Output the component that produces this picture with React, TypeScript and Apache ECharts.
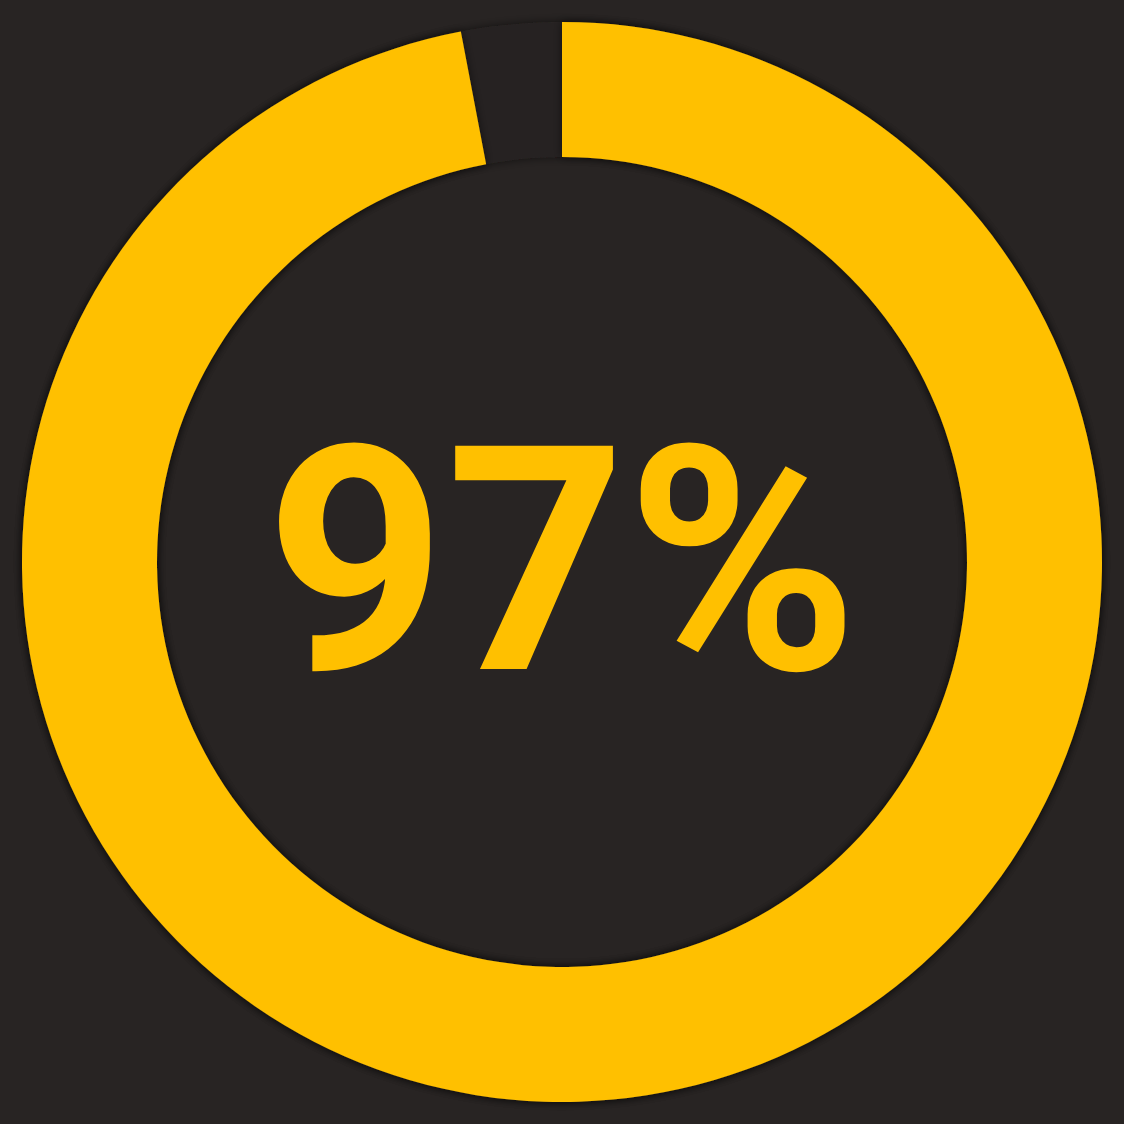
import { useEffect, useRef } from "react";
import * as echarts from "echarts";

const names = ["Done", "Remaining"];
const values = [97, 3];
const label = "97%";

const BG = "#282423";
const YELLOW = "#FFC000";

const App = () => {
  const chartRef = useRef<HTMLDivElement>(null);

  useEffect(() => {
    const chart = echarts.init(chartRef.current, null, { renderer: "svg" });

    const shadow = { shadowBlur: 10, shadowColor: "rgba(0,0,0,0.55)" };

    const option = {
      animation: false,
      backgroundColor: BG,
      graphic: [
        {
          type: "text",
          left: "center",
          top: "middle",
          style: {
            text: label,
            fill: YELLOW,
            font: "bold 314px Roboto",
          },
        },
      ],
      series: [
        {
          // dark track under the value ring
          type: "pie",
          z: 1,
          center: [562, 562],
          radius: [405, 540],
          label: { show: false },
          labelLine: { show: false },
          silent: true,
          data: [{ name: "track", value: 1, itemStyle: { color: BG, ...shadow } }],
        },
        {
          type: "pie",
          z: 2,
          center: [562, 562],
          radius: [405, 540],
          startAngle: 90,
          clockwise: true,
          label: { show: false },
          labelLine: { show: false },
          silent: true,
          data: names.map((n, i) => ({
            name: n,
            value: values[i],
            itemStyle:
              i === 0 ? { color: YELLOW, ...shadow } : { color: "rgba(0,0,0,0)" },
          })),
        },
      ],
    };
    chart.setOption(option);

    return () => {
      chart.dispose();
    };
  }, []);

  return (
    <div
      ref={chartRef}
      style={{ position: "absolute", left: 0, top: 0, width: 1124, height: 1124 }}
    />
  );
};

export default App;
